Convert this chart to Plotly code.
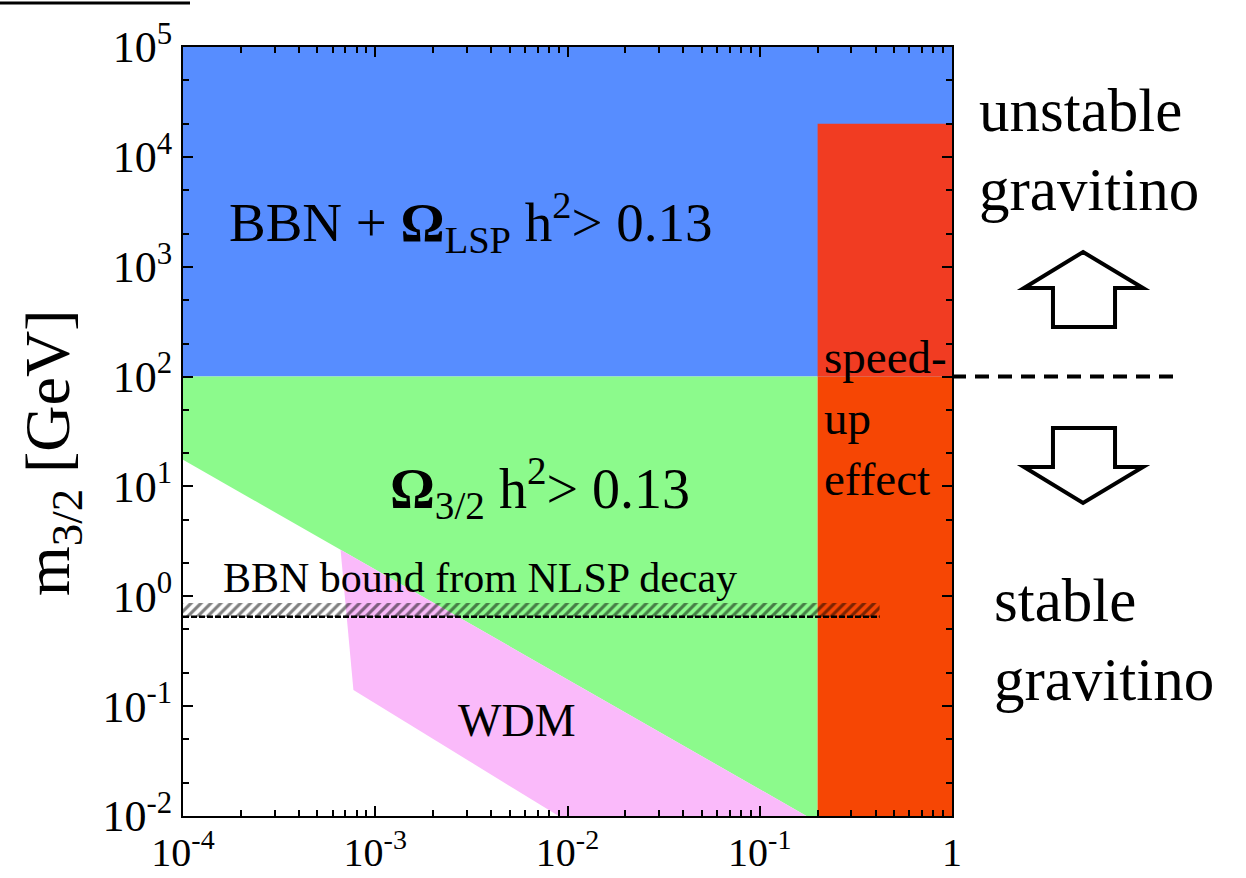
import plotly.graph_objects as go

# ---- data (region vertices, in data units) ----
blue_x = [1e-4, 1.0, 1.0, 1e-4]
blue_y = [1e2, 1e2, 1e5, 1e5]

green_x = [1e-4, 0.2, 0.2, 0.175, 1e-4]
green_y = [1e2, 1e2, 1e-2, 1e-2, 17.5]

wdm_x = [6.6e-4, 7.7e-4, 9.0e-3, 0.175]
wdm_y = [2.65, 0.14, 1e-2, 1e-2]

red_up_x = [0.2, 1.0, 1.0, 0.2]
red_up_y = [1e2, 1e2, 2e4, 2e4]

red_lo_x = [0.2, 1.0, 1.0, 0.2]
red_lo_y = [1e-2, 1e-2, 1e2, 1e2]

bbn_x = [1e-4, 0.42, 0.42, 1e-4]
bbn_y = [0.65, 0.65, 0.87, 0.87]

threshold_m = 1e2

x_ticks = [1e-4, 1e-3, 1e-2, 1e-1, 1]
x_ticktext = ["10<sup>-4</sup>", "10<sup>-3</sup>", "10<sup>-2</sup>", "10<sup>-1</sup>", "1"]
y_ticks = [1e-2, 1e-1, 1e0, 1e1, 1e2, 1e3, 1e4, 1e5]
y_ticktext = ["10<sup>-2</sup>", "10<sup>-1</sup>", "10<sup>0</sup>", "10<sup>1</sup>",
              "10<sup>2</sup>", "10<sup>3</sup>", "10<sup>4</sup>", "10<sup>5</sup>"]

x_minor = [k * 10.0 ** e for e in range(-4, 0) for k in range(2, 10)]
y_minor = [k * 10.0 ** e for e in range(-2, 5) for k in (2, 5)]

FONT = "Liberation Serif"

fig = go.Figure()

def poly(xs, ys, color):
    fig.add_trace(go.Scatter(x=xs + [xs[0]], y=ys + [ys[0]], mode="lines", fill="toself",
                             fillcolor=color, line=dict(width=0), hoverinfo="skip",
                             showlegend=False))

poly(blue_x, blue_y, "rgb(87,141,255)")
poly(green_x, green_y, "rgb(140,250,140)")
poly(wdm_x, wdm_y, "rgb(250,186,250)")
poly(red_up_x, red_up_y, "rgb(241,60,34)")
poly(red_lo_x, red_lo_y, "rgb(246,70,4)")

# hatched BBN band
fig.add_trace(go.Scatter(x=bbn_x + [bbn_x[0]], y=bbn_y + [bbn_y[0]], mode="lines", fill="toself",
                         fillcolor="rgba(0,0,0,0)",
                         fillpattern=dict(shape="/", fgcolor="black", bgcolor="rgba(0,0,0,0)",
                                          size=7, solidity=0.45),
                         line=dict(width=0), hoverinfo="skip", showlegend=False))
fig.add_trace(go.Scatter(x=[bbn_x[0], bbn_x[1]], y=[bbn_y[0], bbn_y[1]], mode="lines",
                         line=dict(color="black", width=2.5, dash="6px,2px"),
                         hoverinfo="skip", showlegend=False))

# pixel -> paper helpers (plot area: x 183..952, y 47..816)
L, R, T, B = 183, 952, 47, 816
def px(x):
    return (x - L) / (R - L)
def py(y):
    return (B - y) / (B - T)

shapes = []
# dashed threshold line outside plot on the right
shapes.append(dict(type="line", xref="paper", yref="y", x0=px(952), x1=px(1180),
                   y0=threshold_m, y1=threshold_m,
                   line=dict(color="black", width=4, dash="14px,9px")))

def arrow(pts):
    path = "M " + " L ".join(f"{px(a):.4f},{py(b):.4f}" for a, b in pts) + " Z"
    return dict(type="path", xref="paper", yref="paper", path=path,
                fillcolor="white", line=dict(color="black", width=4))

shapes.append(arrow([(1083, 252), (1143, 288), (1115, 288), (1115, 327), (1053, 327),
                     (1053, 288), (1024, 288)]))
shapes.append(arrow([(1053, 428), (1115, 428), (1115, 467), (1143, 467), (1083, 503),
                     (1024, 467), (1053, 467)]))
# top-left rule
shapes.append(dict(type="line", xref="paper", yref="paper", x0=px(0), x1=px(190),
                   y0=py(3), y1=py(3), line=dict(color="black", width=3)))

annotations = [
    dict(text="BBN + <b>Ω</b><sub>LSP</sub> h<sup>2</sup>> 0.13", x=px(471), y=py(222),
         font=dict(size=55)),
    dict(text="<b>Ω</b><sub>3/2</sub> h<sup>2</sup>> 0.13", x=px(540), y=py(488),
         font=dict(size=56)),
    dict(text="BBN bound from NLSP decay", x=px(480), y=py(578), font=dict(size=42)),
    dict(text="WDM", x=px(517), y=py(720), font=dict(size=46)),
    dict(text="speed-<br>up<br>effect", x=px(822), y=py(418), xanchor="left", align="left",
         font=dict(size=47)),
    dict(text="unstable<br>gravitino", x=px(977), y=py(150), xanchor="left", align="left",
         font=dict(size=61)),
    dict(text="stable<br>gravitino", x=px(992), y=py(640), xanchor="left", align="left",
         font=dict(size=61)),
    dict(text="m<sub>3/2</sub> [GeV]", x=px(52), y=py(453), textangle=-90,
         font=dict(size=64)),
]
for a in annotations:
    a.update(xref="paper", yref="paper", showarrow=False)
    a.setdefault("xanchor", "center")
    a["yanchor"] = "middle"
    a["font"].update(family=FONT, color="black")

axis_common = dict(type="log", showgrid=False, zeroline=False, showline=True,
                   linecolor="black", linewidth=2, mirror="ticks", ticks="inside",
                   ticklen=10, tickwidth=2, tickcolor="black", automargin=False)

fig.update_layout(
    width=1246, height=878,
    margin=dict(l=L, r=1246 - R, t=T, b=878 - B),
    paper_bgcolor="white", plot_bgcolor="white",
    xaxis=dict(range=[-4, 0], tickvals=x_ticks, ticktext=x_ticktext,
               tickfont=dict(family=FONT, size=40, color="black"),
               minor=dict(ticks="inside", ticklen=6, tickwidth=1.5, tickcolor="black",
                          tickvals=x_minor, showgrid=False),
               **axis_common),
    yaxis=dict(range=[-2, 5], tickvals=y_ticks, ticktext=y_ticktext,
               tickfont=dict(family=FONT, size=44, color="black"),
               minor=dict(ticks="inside", ticklen=6, tickwidth=1.5, tickcolor="black",
                          tickvals=y_minor, showgrid=False),
               **axis_common),
    shapes=shapes,
    annotations=annotations,
)

fig.write_html("out.html")
